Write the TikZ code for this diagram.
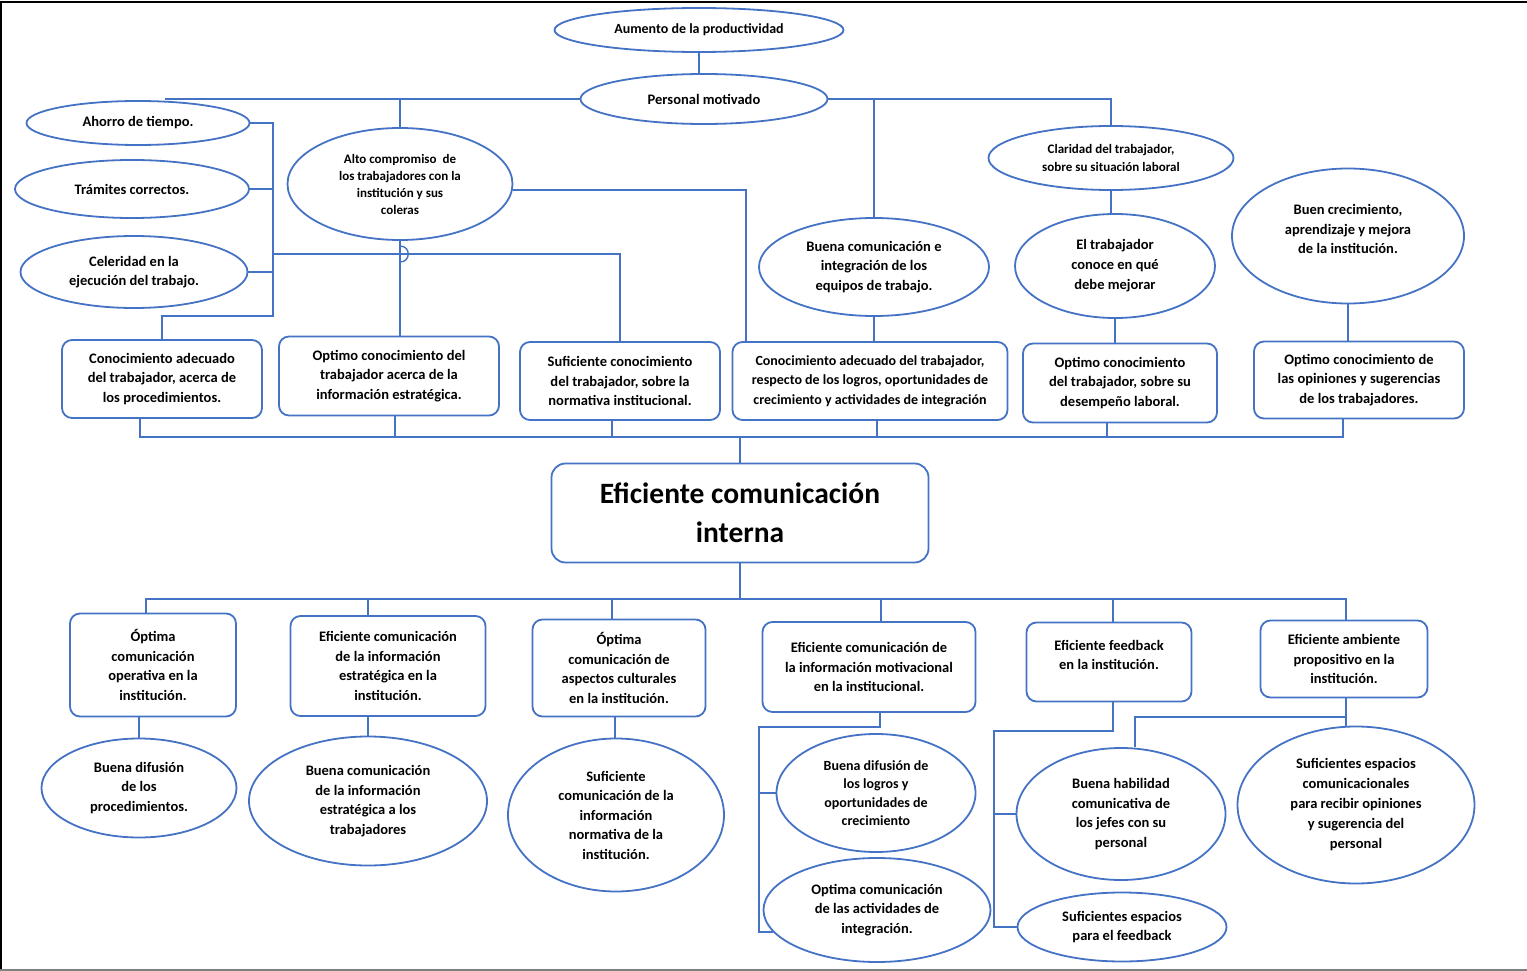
\documentclass[tikz,border=0pt]{standalone}
\usepackage{fontspec}
\setmainfont{Carlito}
\usetikzlibrary{shapes.geometric}
\definecolor{lblue}{RGB}{68,114,196}
\begin{document}
\begin{tikzpicture}[x=1pt,y=-1pt,
  txt/.style={font=\fontsize{14.5}{19.5}\selectfont\bfseries, align=center, text=black},
  oval/.style={ellipse, draw=lblue, line width=1.8pt, inner sep=0pt, txt},
  rbox/.style={rectangle, rounded corners=10pt, draw=lblue, line width=1.8pt, inner sep=0pt, txt},
  link/.style={draw=lblue, line width=1.4pt},
  sz/.style 2 args={minimum width=#1pt, minimum height=#2pt}]
\useasboundingbox (0,0) rectangle (1527,971);
% page frame
\draw[black, line width=1.5pt] (0,2) -- (1527,2);
\draw[black, line width=1.5pt] (1,2) -- (1,970);
\draw[gray, line width=1.5pt] (0,970) -- (1527,970);

% ---------- upper part: effects ----------
\node[oval, sz={289}{44}, font=\fontsize{14}{18}\selectfont\bfseries] (A) at (699,30) {Aumento de la productividad};
\node[oval, sz={247}{50}] (P) at (704,99) {Personal motivado};
\node[oval, sz={223}{44}] (Ahorro) at (138,123) {Ahorro de tiempo.};
\node[oval, sz={234}{58}] (Tram) at (132,189) {Trámites correctos.};
\node[oval, sz={227}{72}] (Cel) at (134,272) {Celeridad en la\\ejecución del trabajo.};
\node[oval, sz={225}{112}, font=\fontsize{13}{17}\selectfont\bfseries] (Alto) at (400,184)
  {Alto compromiso~ de\\los trabajadores con la\\institución y sus\\coleras};
\node[oval, sz={245}{64}, font=\fontsize{13}{18}\selectfont\bfseries] (Clar) at (1111,158)
  {Claridad del trabajador,\\sobre su situación laboral};
\node[oval, sz={230}{98}] (BuenaC) at (874,267) {Buena comunicación e\\integración de los\\equipos de trabajo.};
\node[oval, sz={200}{104}, font=\fontsize{14.5}{20}\selectfont\bfseries] (ElTrab) at (1115,266) {El trabajador\\conoce en qué\\debe mejorar};
\node[oval, sz={232}{135}] (BCr) at (1348,236) {};
\node[txt] (BCrt) at (1348,229) {Buen crecimiento,\\aprendizaje y mejora\\de la institución.};

% ---------- knowledge boxes ----------
\node[rbox, sz={200}{78}] (B1) at (162,379) {Conocimiento adecuado\\del trabajador, acerca de\\los procedimientos.};
\node[rbox, sz={220}{79}] (B2) at (389,376) {Optimo conocimiento del\\trabajador acerca de la\\información estratégica.};
\node[rbox, sz={200}{78}] (B3) at (620,381) {Suficiente conocimiento\\del trabajador, sobre la\\normativa institucional.};
\node[rbox, sz={275}{78}, font=\fontsize{14}{19.5}\selectfont\bfseries] (B4) at (870,381)
  {Conocimiento adecuado del trabajador,\\respecto de los logros, oportunidades de\\crecimiento y actividades de integración};
\node[rbox, sz={194}{79}] (B5) at (1120,383) {Optimo conocimiento\\del trabajador, sobre su\\desempeño laboral.};
\node[rbox, sz={210}{77}] (B6) at (1359,380) {Optimo conocimiento de\\las opiniones y sugerencias\\de los trabajadores.};

% ---------- central box ----------
\node[rbox, sz={377}{99}, rounded corners=14pt, font=\fontsize{29.5}{39}\selectfont\bfseries] (E) at (740,513)
  {Eficiente comunicación\\interna};

% ---------- lower part: means ----------
\node[rbox, sz={166}{103}] (C1) at (153,665) {Óptima\\comunicación\\operativa en la\\institución.};
\node[rbox, sz={195}{100}] (C2) at (388,666) {Eficiente comunicación\\de la información\\estratégica en la\\institución.};
\node[rbox, sz={173}{97}] (C3) at (619,668) {Óptima\\comunicación de\\aspectos culturales\\en la institución.};
\node[rbox, sz={213}{90}] (C4) at (869,667) {Eficiente comunicación de\\la información motivacional\\en la institucional.};
\node[rbox, sz={165}{79}] (C5) at (1109,662) {};
\node[txt] (C5t) at (1109,655) {Eficiente feedback\\en la institución.};
\node[rbox, sz={167}{77}] (C6) at (1344,659) {Eficiente ambiente\\propositivo en la\\institución.};

\node[oval, sz={195}{99}] (D1) at (139,788) {Buena difusión\\de los\\procedimientos.};
\node[oval, sz={238}{129}] (D2) at (368,801) {Buena comunicación\\de la información\\estratégica a los\\trabajadores};
\node[oval, sz={216}{153}] (D3) at (616,815) {Suficiente\\comunicación de la\\información\\normativa de la\\institución.};
\node[oval, sz={199}{118}, font=\fontsize{14}{18.5}\selectfont\bfseries] (D4) at (876,793) {Buena difusión de\\los logros y\\oportunidades de\\crecimiento};
\node[oval, sz={227}{104}] (D5) at (877,910) {Optima comunicación\\de las actividades de\\integración.};
\node[oval, sz={209}{132}] (D6) at (1121,814) {Buena habilidad\\comunicativa de\\los jefes con su\\personal};
\node[oval, sz={209}{69}] (D7) at (1122,927) {Suficientes espacios\\para el feedback};
\node[oval, sz={237}{157}, font=\fontsize{14.5}{20}\selectfont\bfseries] (D8) at (1356,805) {Suficientes espacios\\comunicacionales\\para recibir opiniones\\y sugerencia del\\personal};

% ---------- connectors, upper part ----------
\coordinate (tl) at (165,99);
\coordinate (barx) at (273,316);
\coordinate (j1) at (273,254);
\coordinate (b4l) at (746,342);
\coordinate (hopT) at (400,246);
\coordinate (hopB) at (400,262);
\coordinate (bus1) at (740,437);
\coordinate (bus2) at (740,599);

\draw[link] (A.south) -- (A.south |- P.north);
\draw[link] (P.west) -- (tl);
\draw[link] (Alto.north) -- (Alto.north |- P.west);
\draw[link] (Ahorro.east) -| (barx) -| (B1.north);
\draw[link] (Tram.east) -- (Tram.east -| barx);
\draw[link] (Cel.east) -- (Cel.east -| barx);
\draw[link] (j1) -| (B3.north);
\draw[link] (Alto.south) -- (Alto.south |- B2.north);
\draw[link] (hopT) .. controls (411,246) and (411,262) .. (hopB);
\draw[link] (Alto.-3) -| (b4l);
\draw[link] (P.east) -| (Clar.north);
\draw[link] (BuenaC.north) -- (BuenaC.north |- P.east);
\draw[link] (BuenaC.south) -- (BuenaC.south |- B4.north);
\draw[link] (Clar.south) -- (Clar.south |- ElTrab.north);
\draw[link] (ElTrab.south) -- (ElTrab.south |- B5.north);
\draw[link] (BCr.south) -- (BCr.south |- B6.north);

% upper bus into the central box
\draw[link] ([xshift=-22pt]B1.south) |- (bus1);
\draw[link] ([xshift=-16pt]B6.south) |- (bus1);
\draw[link] ([xshift=6pt]B2.south) -- ([xshift=6pt]B2.south |- bus1);
\draw[link] ([xshift=-8pt]B3.south) -- ([xshift=-8pt]B3.south |- bus1);
\draw[link] ([xshift=7pt]B4.south) -- ([xshift=7pt]B4.south |- bus1);
\draw[link] ([xshift=-13pt]B5.south) -- ([xshift=-13pt]B5.south |- bus1);
\draw[link] (E.north) -- (E.north |- bus1);

% lower bus from the central box
\draw[link] (E.south) -- (E.south |- bus2);
\draw[link] ([xshift=-7pt]C1.north) |- (bus2);
\draw[link] ([xshift=2pt]C6.north) |- (bus2);
\draw[link] ([xshift=-20pt]C2.north) -- ([xshift=-20pt]C2.north |- bus2);
\draw[link] ([xshift=-7pt]C3.north) -- ([xshift=-7pt]C3.north |- bus2);
\draw[link] ([xshift=12pt]C4.north) -- ([xshift=12pt]C4.north |- bus2);
\draw[link] ([xshift=4pt]C5.north) -- ([xshift=4pt]C5.north |- bus2);

% ---------- connectors, lower part ----------
\draw[link] (D1.north) -- (D1.north |- C1.south);
\draw[link] (D2.north) -- (D2.north |- C2.south);
\draw[link] ([xshift=-4pt]C3.south) -- ([xshift=-4pt]C3.south |- D3.north);

\coordinate (c4bar) at (759,727);
\draw[link] ([xshift=11pt]C4.south) |- (c4bar) -- (c4bar |- D5.192) -- (D5.192);
\draw[link] (c4bar |- D4.west) -- (D4.west);

\coordinate (c5bar) at (994,731);
\draw[link] ([xshift=4pt]C5.south) |- (c5bar) -- (c5bar |- D7.west) -- (D7.west);
\draw[link] (c5bar |- D6.west) -- (D6.west);

\coordinate (c6j) at (1346,717);
\draw[link] ([xshift=2pt]C6.south) -- ([xshift=2pt]C6.south |- D8.north);
\draw[link] (c6j) -| ([xshift=14pt]D6.north);
\end{tikzpicture}
\end{document}
